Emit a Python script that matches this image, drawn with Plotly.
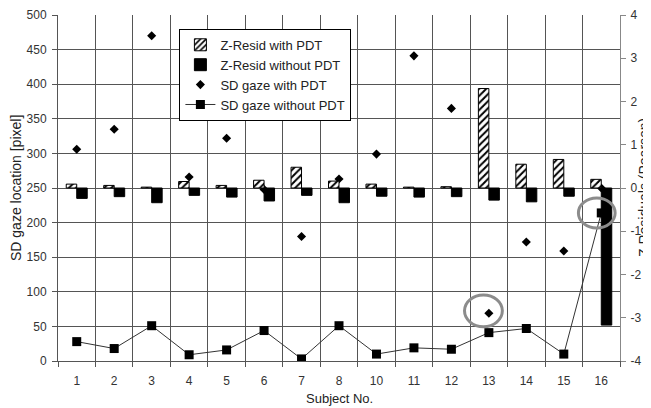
import plotly.graph_objects as go

subjects = ["1", "2", "3", "4", "5", "6", "7", "8", "10", "11", "12", "13", "14", "15", "16"]
z_with_pdt = [0.09, 0.06, 0.02, 0.15, 0.06, 0.18, 0.48, 0.16, 0.09, 0.02, 0.03, 2.30, 0.55, 0.66, 0.20]
z_without_pdt = [-0.24, -0.20, -0.34, -0.17, -0.21, -0.30, -0.17, -0.34, -0.19, -0.21, -0.20, -0.28, -0.32, -0.19, -3.17]
sd_with_pdt = [306, 335, 470, 266, 322, 248, 180, 263, 299, 441, 365, 69, 172, 159, 250]
sd_without_pdt = [28, 18, 51, 9, 16, 44, 3, 51, 10, 19, 17, 41, 47, 10, 214]
z_tick_vals = [-4, -3, -2, -1, 0, 1, 2, 3, 4]
z_tick_text = ["-4", "-3", "-2", "-1", "0", "1", "2", "3", "4"]

FONT = "Liberation Sans, Arial, sans-serif"
fig = go.Figure()

fig.add_trace(go.Bar(
    x=subjects, y=z_with_pdt, yaxis="y2", name="Z-Resid with PDT",
    marker=dict(color="white", line=dict(color="black", width=1),
                pattern=dict(shape="/", fgcolor="black", bgcolor="white",
                             size=5, solidity=0.4, fillmode="replace")),
))
fig.add_trace(go.Bar(
    x=subjects, y=z_without_pdt, yaxis="y2", name="Z-Resid without PDT",
    marker=dict(color="black", line=dict(color="black", width=1)),
))
fig.add_trace(go.Scatter(
    x=subjects, y=sd_with_pdt, mode="markers", name="SD gaze with PDT",
    marker=dict(symbol="diamond", size=7, color="black"),
))
fig.add_trace(go.Scatter(
    x=subjects, y=sd_without_pdt, mode="lines+markers", name="SD gaze without PDT",
    line=dict(color="#333333", width=1),
    marker=dict(symbol="square", size=9, color="black"),
))

# grey highlight ellipses
for (x0, x1, y0, y1) in [(10.35, 11.36, 49.6, 95.4), (13.39, 14.37, 192.2, 235.5)]:
    fig.add_shape(type="circle", xref="x", yref="y", x0=x0, x1=x1, y0=y0, y1=y1,
                  line=dict(color="#8c8c8c", width=3), layer="above")

# axis titles as annotations (fixed placement)
fig.add_annotation(text="SD gaze location [pixel]", xref="paper", yref="paper",
                   x=-42 / 562, y=0.5, xanchor="center", yanchor="middle", textangle=-90,
                   showarrow=False, font=dict(size=14, color="#222222"))
fig.add_annotation(text="Z Residuals (Pearson)", xref="paper", yref="paper",
                   x=1.0 + 24 / 562, y=0.5, xanchor="center", yanchor="middle", textangle=-90,
                   showarrow=False, font=dict(size=14, color="#222222"))
fig.add_annotation(text="Subject No.", xref="paper", yref="paper",
                   x=0.5, y=-38 / 346, xanchor="center", yanchor="middle",
                   showarrow=False, font=dict(size=13, color="#222222"))

# page body has an 8px margin: size/margins compensate so the plot area lands at 58..620 x 15..361
fig.update_layout(
    width=643, height=400,
    margin=dict(l=50, r=31, t=7, b=47, autoexpand=False),
    paper_bgcolor="white", plot_bgcolor="white",
    font=dict(family=FONT, size=12, color="#333333"),
    barmode="group", bargap=0.44, bargroupgap=0,
    showlegend=True,
    legend=dict(x=0.216, y=0.96, xanchor="left", yanchor="top",
                bgcolor="white", bordercolor="black", borderwidth=1,
                font=dict(family=FONT, size=13, color="#222222"),
                tracegroupgap=0, itemwidth=30),
    xaxis=dict(type="category", range=[-0.5, 14.5], tickson="boundaries", ticks="outside", ticklen=5,
               tickcolor="#555555", showgrid=True, gridcolor="#555555", gridwidth=1,
               showline=True, linecolor="#555555", linewidth=1, automargin=False,
               ticklabelstandoff=9,
               tickfont=dict(size=12, color="#333333")),
    yaxis=dict(range=[0, 500], dtick=50, ticks="outside", ticklen=5, tickcolor="#555555",
               showgrid=True, gridcolor="#555555", gridwidth=1, zeroline=False,
               showline=True, linecolor="#555555", linewidth=1, automargin=False,
               ticklabelstandoff=3,
               tickfont=dict(size=12, color="#333333")),
    yaxis2=dict(range=[-4, 4], tickmode="array", tickvals=z_tick_vals, ticktext=z_tick_text,
                overlaying="y", side="right", ticks="outside",
                ticklen=5, tickcolor="#888888", showgrid=False, zeroline=False,
                showline=True, linecolor="#888888", linewidth=1, automargin=False,
                ticklabelstandoff=2,
                tickfont=dict(size=12, color="#333333")),
)

fig.write_html("out.html")
